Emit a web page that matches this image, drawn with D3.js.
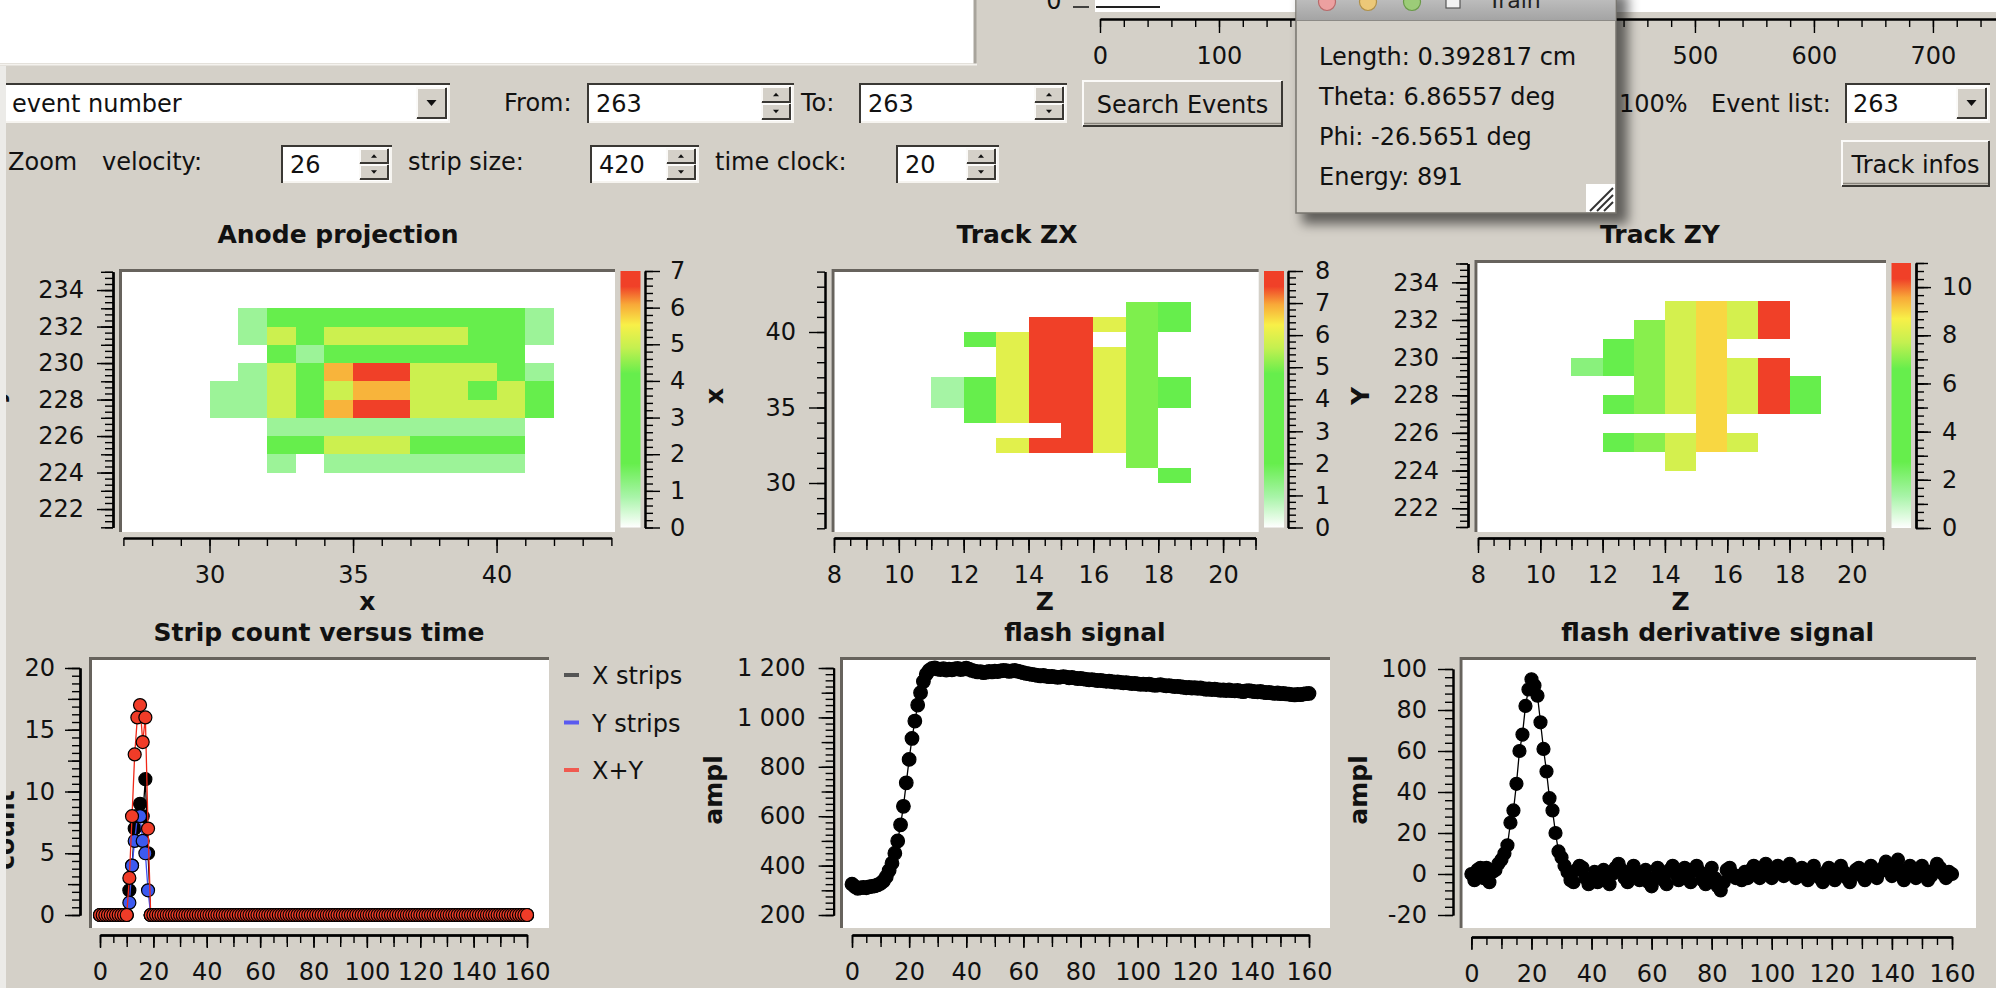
<!DOCTYPE html>
<html>
<head>
<meta charset="utf-8">
<script src="https://cdn.jsdelivr.net/npm/d3@7"></script>
<style>
body { margin: 0; background: #d4d0c8; overflow: hidden; }
svg { display: block; }
</style>
</head>
<body>
<svg id="screen" width="1996" height="988"></svg>
<script>
let fontFamily = "DejaVu Sans, sans-serif"
let bg = "#d4d0c8"

// anode projection: rows are y bins (232..224), columns x bins (30..41)
let anodeCols = [30, 31, 32, 33, 34, 35, 36, 37, 38, 39, 40, 41]
let anodeRows = [232, 231, 230, 229, 228, 227, 226, 225, 224]
let anodeCounts = [
    [0, 1, 4, 4, 4, 4, 4, 4, 4, 4, 4, 1],
    [0, 1, 5, 4, 5, 5, 5, 5, 5, 4, 4, 1],
    [0, 0, 4, 1, 4, 4, 4, 4, 4, 4, 4, 0],
    [0, 1, 5, 4, 6, 7, 7, 5, 5, 5, 4, 1],
    [1, 1, 5, 4, 5, 6, 6, 5, 5, 4, 5, 4],
    [1, 1, 5, 4, 6, 7, 7, 5, 5, 5, 5, 4],
    [0, 0, 1, 1, 1, 1, 1, 1, 1, 1, 1, 0],
    [0, 0, 4, 4, 5, 5, 5, 4, 4, 4, 4, 0],
    [0, 0, 1, 0, 1, 1, 1, 1, 1, 1, 1, 0]
]

// track ZX: rows are x bins (41..30), columns z bins (11..18)
let zxCols = [11, 12, 13, 14, 15, 16, 17, 18]
let zxRows = [41, 40, 39, 38, 37, 36, 35, 34, 33, 32, 31, 30]
let zxCounts = [
    [0, 0, 0, 0, 0, 0, 5, 4],
    [0, 0, 0, 8, 8, 6, 5, 4],
    [0, 4, 6, 8, 8, 0, 5, 0],
    [0, 0, 6, 8, 8, 6, 5, 0],
    [0, 0, 6, 8, 8, 6, 5, 0],
    [1, 4, 6, 8, 8, 6, 5, 4],
    [1, 4, 6, 8, 8, 6, 5, 4],
    [0, 4, 6, 8, 8, 6, 5, 0],
    [0, 0, 0, 0, 8, 6, 5, 0],
    [0, 0, 6, 8, 8, 6, 5, 0],
    [0, 0, 0, 0, 0, 0, 5, 0],
    [0, 0, 0, 0, 0, 0, 0, 4]
]

// track ZY: rows are y bins (232..224), columns z bins (11..18)
let zyCols = [11, 12, 13, 14, 15, 16, 17, 18]
let zyRows = [232, 231, 230, 229, 228, 227, 226, 225, 224]
let zyCounts = [
    [0, 0, 0, 8, 9, 8, 11, 0],
    [0, 0, 7, 8, 9, 8, 11, 0],
    [0, 6, 7, 8, 9, 0, 0, 0],
    [2, 6, 7, 8, 9, 8, 11, 0],
    [0, 0, 7, 8, 9, 8, 11, 6],
    [0, 6, 7, 8, 9, 8, 11, 6],
    [0, 0, 0, 0, 9, 0, 0, 0],
    [0, 6, 7, 8, 9, 8, 0, 0],
    [0, 0, 0, 8, 0, 0, 0, 0]
]

let timeBins = d3.range(0, 161)

let xStrips = [
    0, 0, 0, 0, 0, 0, 0, 0, 0, 0,
    0, 2, 4, 7, 8, 9, 8, 11, 5, 0,
    0, 0, 0, 0, 0, 0, 0, 0, 0, 0, 0, 0, 0, 0, 0, 0, 0, 0, 0, 0,
    0, 0, 0, 0, 0, 0, 0, 0, 0, 0, 0, 0, 0, 0, 0, 0, 0, 0, 0, 0,
    0, 0, 0, 0, 0, 0, 0, 0, 0, 0, 0, 0, 0, 0, 0, 0, 0, 0, 0, 0,
    0, 0, 0, 0, 0, 0, 0, 0, 0, 0, 0, 0, 0, 0, 0, 0, 0, 0, 0, 0,
    0, 0, 0, 0, 0, 0, 0, 0, 0, 0, 0, 0, 0, 0, 0, 0, 0, 0, 0, 0,
    0, 0, 0, 0, 0, 0, 0, 0, 0, 0, 0, 0, 0, 0, 0, 0, 0, 0, 0, 0,
    0, 0, 0, 0, 0, 0, 0, 0, 0, 0, 0, 0, 0, 0, 0, 0, 0, 0, 0, 0,
    0
]
let yStrips = [
    0, 0, 0, 0, 0, 0, 0, 0, 0, 0,
    0, 1, 4, 6, 8, 8, 6, 5, 2, 0,
    0, 0, 0, 0, 0, 0, 0, 0, 0, 0, 0, 0, 0, 0, 0, 0, 0, 0, 0, 0,
    0, 0, 0, 0, 0, 0, 0, 0, 0, 0, 0, 0, 0, 0, 0, 0, 0, 0, 0, 0,
    0, 0, 0, 0, 0, 0, 0, 0, 0, 0, 0, 0, 0, 0, 0, 0, 0, 0, 0, 0,
    0, 0, 0, 0, 0, 0, 0, 0, 0, 0, 0, 0, 0, 0, 0, 0, 0, 0, 0, 0,
    0, 0, 0, 0, 0, 0, 0, 0, 0, 0, 0, 0, 0, 0, 0, 0, 0, 0, 0, 0,
    0, 0, 0, 0, 0, 0, 0, 0, 0, 0, 0, 0, 0, 0, 0, 0, 0, 0, 0, 0,
    0, 0, 0, 0, 0, 0, 0, 0, 0, 0, 0, 0, 0, 0, 0, 0, 0, 0, 0, 0,
    0
]
let xyStrips = [
    0, 0, 0, 0, 0, 0, 0, 0, 0, 0,
    0, 3, 8, 13, 16, 17, 14, 16, 7, 0,
    0, 0, 0, 0, 0, 0, 0, 0, 0, 0, 0, 0, 0, 0, 0, 0, 0, 0, 0, 0,
    0, 0, 0, 0, 0, 0, 0, 0, 0, 0, 0, 0, 0, 0, 0, 0, 0, 0, 0, 0,
    0, 0, 0, 0, 0, 0, 0, 0, 0, 0, 0, 0, 0, 0, 0, 0, 0, 0, 0, 0,
    0, 0, 0, 0, 0, 0, 0, 0, 0, 0, 0, 0, 0, 0, 0, 0, 0, 0, 0, 0,
    0, 0, 0, 0, 0, 0, 0, 0, 0, 0, 0, 0, 0, 0, 0, 0, 0, 0, 0, 0,
    0, 0, 0, 0, 0, 0, 0, 0, 0, 0, 0, 0, 0, 0, 0, 0, 0, 0, 0, 0,
    0, 0, 0, 0, 0, 0, 0, 0, 0, 0, 0, 0, 0, 0, 0, 0, 0, 0, 0, 0,
    0
]

let flashSignal = [
    325, 315, 308, 310, 312, 310, 314, 316, 318, 322,
    328, 338, 355, 380, 410, 450, 500, 565, 640, 735,
    830, 915, 985, 1050, 1100, 1145, 1175, 1190, 1198, 1200,
    1196, 1194, 1197, 1192, 1195, 1193, 1196, 1198, 1194, 1196,
    1199, 1195, 1190, 1187, 1184, 1185, 1181, 1183, 1186, 1184,
    1187, 1185, 1188, 1190, 1189, 1186, 1188, 1190, 1187, 1184,
    1181, 1178, 1176, 1174, 1172, 1170, 1168, 1170, 1167, 1165,
    1166, 1164, 1162, 1163, 1165, 1163, 1160, 1162, 1159, 1157,
    1158, 1156, 1154, 1152, 1153, 1151, 1149, 1150, 1148, 1146,
    1147, 1145, 1143, 1144, 1142, 1140, 1141, 1139, 1137, 1138,
    1136, 1134, 1135, 1133, 1135, 1132, 1130, 1131, 1133, 1130,
    1128, 1129, 1127, 1125, 1126, 1124, 1122, 1120, 1121, 1119,
    1120, 1118, 1119, 1116, 1114, 1115, 1113, 1114, 1112, 1110,
    1111, 1109, 1111, 1108, 1107, 1109, 1106, 1104, 1107, 1108,
    1106, 1104, 1103, 1105, 1102, 1100, 1101, 1099, 1097, 1099,
    1096, 1097, 1095, 1094, 1092, 1091, 1093, 1092, 1094, 1096,
    1097
]

let flashDerivative = [
    0, -3, 2, 3, -2, 3, -4, 1, 2, 5,
    7, 10, 14, 25, 31, 44, 60, 68, 82, 90,
    95, 92, 87, 74, 61, 50, 37, 31, 20, 11,
    8, 4, 1, -3, -4, 2, 4, 3, -2, -5,
    -3, 1, -4, -2, 2, -3, -5, 0, 3, 5,
    2, -2, -4, 1, 4, -1, -3, 0, 2, -4,
    -6, -2, 3, 1, -3, -5, 2, 4, 0, -3,
    -2, 3, -1, -4, 2, 4, 1, -3, -5, 0,
    3, -2, -6, -8, -4, 2, 3, 0, -2, -1,
    -3, 1, -2, 2, 4, 0, -2, 3, 5, 1,
    -2, 2, 4, 1, -1, 3, 5, 2, -2, 0,
    3, -1, -3, 2, 4, 0, -2, -4, 1, 3,
    -1, -3, 2, 4, 1, -2, -4, 0, 2, 3,
    -1, -3, 2, 4, 2, -2, 1, 3, 6, 2,
    -1, 3, 7, 2, -3, 1, 4, 0, -2, 2,
    4, 1, -3, -1, 2, 5, 3, 0, -2, 1,
    0
]

let stripLegend = ["X strips", "Y strips", "X+Y"]
let trackInfo = ["Length: 0.392817 cm", "Theta: 6.86557 deg", "Phi: -26.5651 deg", "Energy: 891"]
let topScaleTicks = [0, 100, 200, 300, 400, 500, 600, 700]
let topScaleHidden = [200, 300, 400] // under the popup

let paletteStops = [0, 0.12, 0.25, 0.6, 0.7, 0.79, 0.87, 0.94, 1]
let paletteColors = ["#ffffff", "#a8f4a8", "#66ee4c", "#66ee4c", "#c4f050", "#f8f048", "#f8a838", "#f04028", "#f04028"]


let svg = d3.select("#screen")
let defs = svg.append("defs")

svg.append("rect").attr("width", 1996).attr("height", 988).attr("fill", bg)


function text(g, x, y, str, opt = {}) {
    return g.append("text")
        .attr("x", x).attr("y", y)
        .attr("font-family", fontFamily)
        .attr("font-size", opt.size || 24)
        .attr("font-weight", opt.bold ? "bold" : "normal")
        .attr("text-anchor", opt.anchor || "start")
        .attr("fill", opt.fill || "#111")
        .text(str)
}

function vlabel(g, x, y, str) {
    g.append("text")
        .attr("transform", `translate(${x},${y}) rotate(-90)`)
        .attr("font-family", fontFamily).attr("font-size", 25).attr("font-weight", "bold")
        .attr("text-anchor", "middle").attr("fill", "#111")
        .text(str)
}

function drawCanvas(g, f) {
    let [x0, y0, x1, y1] = f
    g.append("rect").attr("x", x0).attr("y", y0).attr("width", x1 - x0).attr("height", y1 - y0).attr("fill", "#fff")
    g.append("path")
        .attr("d", `M${x0 + 1.5},${y1} V${y0 + 1.5} H${x1}`)
        .attr("stroke", "#67635d").attr("stroke-width", 3).attr("fill", "none")
}

// qwt-like scale: minor, medium and major ticks through d3 axes
function drawAxis(g, orient, scale, pos, opt) {
    let make = orient === "left" ? d3.axisLeft : orient === "right" ? d3.axisRight : d3.axisBottom
    let tr = orient === "bottom" ? `translate(0,${pos})` : `translate(${pos},0)`
    let [lo, hi] = d3.extent(scale.domain())
    let layers = [[d3.range(lo, hi + 1e-6, opt.minor), 8]]
    if (opt.medium) layers.push([d3.range(lo, hi + 1e-6, opt.medium), 12])

    layers.forEach(l => {
        let a = g.append("g").attr("transform", tr)
            .call(make(scale).tickValues(l[0]).tickSize(l[1]).tickSizeOuter(0).tickFormat(""))
        a.select(".domain").attr("stroke", "#000").attr("stroke-width", 2)
        a.selectAll(".tick line").attr("stroke", "#000").attr("stroke-width", 1.4)
    })

    let a = g.append("g").attr("transform", tr)
        .call(make(scale).tickValues(opt.majors).tickSize(opt.major || 16).tickSizeOuter(0)
            .tickPadding(opt.pad || 12).tickFormat(opt.format || (d => String(d))))
    a.attr("font-family", fontFamily).attr("font-size", 24)
    a.select(".domain").attr("stroke", "#000").attr("stroke-width", 2)
    a.selectAll(".tick line").attr("stroke", "#000").attr("stroke-width", 1.4)
    a.selectAll("text").attr("fill", "#111")
}

function drawHeatmap(p) {
    let g = svg.append("g")
    drawCanvas(g, p.frame)

    let x = d3.scaleLinear(p.xDomain, p.xRange)
    let y = d3.scaleLinear(p.yDomain, p.yRange)
    let color = d3.scaleLinear(paletteStops.map(s => s * p.zMax), paletteColors)

    let cells = []
    p.rows.forEach((r, i) => p.cols.forEach((c, j) => {
        if (p.counts[i][j] > 0) cells.push({c: c, r: r, v: p.counts[i][j]})
    }))

    g.selectAll("rect.cell")
        .data(cells)
        .enter()
        .append("rect")
        .attr("class", "cell")
        .attr("x", d => x(d.c))
        .attr("y", d => y(d.r + 1))
        .attr("width", d => x(d.c + 1) - x(d.c))
        .attr("height", d => y(d.r) - y(d.r + 1))
        .attr("fill", d => color(d.v))
        .attr("shape-rendering", "crispEdges")

    drawAxis(g, "bottom", x, 538, {majors: p.xMajors, minor: p.xMinor, medium: p.xMedium, major: 15, pad: 13})
    drawAxis(g, "left", y, p.yAxisX, {majors: p.yMajors, minor: p.yMinor, medium: p.yMedium, major: 16, pad: 13})

    // colour bar
    let grad = defs.append("linearGradient").attr("id", p.id)
        .attr("x1", 0).attr("y1", 1).attr("x2", 0).attr("y2", 0)
    paletteStops.forEach((s, i) => grad.append("stop").attr("offset", s).attr("stop-color", paletteColors[i]))

    let z = d3.scaleLinear([0, p.zMax], p.barRange)
    g.append("rect")
        .attr("x", p.barX[0]).attr("y", z(p.zMax))
        .attr("width", p.barX[1] - p.barX[0]).attr("height", z(0) - z(p.zMax))
        .attr("fill", `url(#${p.id})`)
    drawAxis(g, "right", z, p.barAxisX, {majors: p.zMajors, minor: p.zMinor, medium: p.zMedium, major: 15, pad: p.barPad})

    text(g, p.titleX, 243, p.title, {bold: true, size: 25, anchor: "middle"})
    text(g, (p.xRange[0] + p.xRange[1]) / 2, 610, p.xLabel, {bold: true, size: 25, anchor: "middle"})
    vlabel(g, p.yLabelX, 396, p.yLabel)
}

function drawSeries(g, x, y, values, fill, stroke, r) {
    let pts = timeBins.map((t, i) => [t, values[i]])
    g.append("path")
        .datum(pts)
        .attr("d", d3.line().x(d => x(d[0])).y(d => y(d[1])))
        .attr("fill", "none").attr("stroke", stroke).attr("stroke-width", 1.3)
    g.selectAll(null)
        .data(pts)
        .enter()
        .append("circle")
        .attr("cx", d => x(d[0]))
        .attr("cy", d => y(d[1]))
        .attr("r", r)
        .attr("fill", fill)
        .attr("stroke", "#000")
        .attr("stroke-width", 1.2)
}

function drawTimePlot(p) {
    let g = svg.append("g")
    drawCanvas(g, p.frame)
    let x = d3.scaleLinear([0, 160], p.xRange)
    let y = d3.scaleLinear(p.yDomain, [915, p.yTop])

    p.series.forEach(s => drawSeries(g, x, y, s.values, s.fill, s.stroke, s.r))

    drawAxis(g, "bottom", x, p.xAxisY, {majors: d3.range(0, 161, 20), minor: 5, medium: 10, major: 13, pad: 15})
    drawAxis(g, "left", y, p.yAxisX, {majors: p.yMajors, minor: p.yMinor, medium: p.yMedium, major: 15, pad: p.pad, format: p.format})

    text(g, (p.frame[0] + p.frame[2]) / 2, 641, p.title, {bold: true, size: 25, anchor: "middle"})
    vlabel(g, p.yLabelX, p.yLabelY || 790, p.yLabel)
    return g
}


// ---------- heat maps ----------
drawHeatmap({
    id: "barAnode", title: "Anode projection", titleX: 338, xLabel: "x", yLabel: "y", yLabelX: 4,
    frame: [119, 269, 615, 532],
    cols: anodeCols, rows: anodeRows, counts: anodeCounts, zMax: 7,
    xDomain: [27, 44], xRange: [123.4, 611.4], xMajors: [30, 35, 40], xMinor: 1,
    yDomain: [221, 235], yRange: [527.3, 271.8], yAxisX: 113, yMajors: d3.range(222, 235, 2), yMinor: 1 / 3, yMedium: 1,
    barX: [620.5, 640.5], barRange: [527.5, 271], barAxisX: 645, barPad: 10, zMajors: d3.range(0, 8), zMinor: 0.2
})

drawHeatmap({
    id: "barZX", title: "Track ZX", titleX: 1017, xLabel: "Z", yLabel: "x", yLabelX: 723,
    frame: [831.5, 269, 1258.7, 532],
    cols: zxCols, rows: zxRows, counts: zxCounts, zMax: 8,
    xDomain: [8, 21], xRange: [834, 1255.5], xMajors: d3.range(8, 21, 2), xMinor: 0.5, xMedium: 1,
    yDomain: [27, 44], yRange: [528.3, 271.6], yAxisX: 825, yMajors: [30, 35, 40], yMinor: 1,
    barX: [1264, 1284], barRange: [527.5, 271], barAxisX: 1288, barPad: 12, zMajors: d3.range(0, 9), zMinor: 0.2
})

drawHeatmap({
    id: "barZY", title: "Track ZY", titleX: 1660, xLabel: "Z", yLabel: "Y", yLabelX: 1369,
    frame: [1474.4, 260, 1886, 532],
    cols: zyCols, rows: zyRows, counts: zyCounts, zMax: 11,
    xDomain: [8, 21], xRange: [1478, 1883], xMajors: d3.range(8, 21, 2), xMinor: 0.5, xMedium: 1,
    yDomain: [221, 235], yRange: [527, 263.5], yAxisX: 1468, yMajors: d3.range(222, 235, 2), yMinor: 1 / 3, yMedium: 1,
    barX: [1891.5, 1911], barRange: [528, 263], barAxisX: 1916, barPad: 11, zMajors: d3.range(0, 11, 2), zMinor: 1 / 3, zMedium: 1
})


// ---------- time plots ----------
let stripPlot = drawTimePlot({
    title: "Strip count versus time", yLabel: "count", yLabelX: 14, yLabelY: 830,
    frame: [89, 657, 549, 928], xRange: [100, 527], xAxisY: 935,
    yDomain: [0, 20], yTop: 668, yAxisX: 80, yMajors: [0, 5, 10, 15, 20], yMinor: 0.625, yMedium: 2.5, pad: 10,
    series: [
        {values: xStrips, fill: "#000000", stroke: "#000000", r: 6.5},
        {values: yStrips, fill: "#3c5af0", stroke: "#3c50f0", r: 6.5},
        {values: xyStrips, fill: "#f03c28", stroke: "#f02818", r: 6.5}
    ]
})

let legendColors = ["#555555", "#5a5af0", "#f05a50"]
stripLegend.forEach((name, i) => {
    stripPlot.append("rect").attr("x", 564).attr("y", 673 + i * 47.5).attr("width", 15).attr("height", 4).attr("fill", legendColors[i])
    text(stripPlot, 592, 684 + i * 47.5, name)
})

drawTimePlot({
    title: "flash signal", yLabel: "ampl", yLabelX: 722,
    frame: [840, 657, 1330, 928], xRange: [852, 1309], xAxisY: 935,
    yDomain: [200, 1200], yTop: 668, yAxisX: 833.6, yMajors: d3.range(200, 1201, 200), yMinor: 25, yMedium: 100, pad: 13,
    format: d => d >= 1000 ? d3.format(",")(d).replace(",", " ") : String(d),
    series: [{values: flashSignal, fill: "#000000", stroke: "#000000", r: 6.8}]
})

drawTimePlot({
    title: "flash derivative signal", yLabel: "ampl", yLabelX: 1367,
    frame: [1459.5, 657, 1976, 928], xRange: [1471.4, 1952], xAxisY: 937,
    yDomain: [-20, 100], yTop: 669, yAxisX: 1453, yMajors: d3.range(-20, 101, 20), yMinor: 4, pad: 11,
    series: [{values: flashDerivative, fill: "#000000", stroke: "#000000", r: 6.5}]
})


// ---------- widgets ----------
let ui = svg.append("g")

function sunken(g, x, y, w, h) {
    g.append("rect").attr("x", x).attr("y", y).attr("width", w).attr("height", h).attr("fill", "#fff")
    g.append("path").attr("d", `M${x + 1},${y + h} V${y + 1} H${x + w}`)
        .attr("stroke", "#3a3834").attr("stroke-width", 2).attr("fill", "none")
    g.append("path").attr("d", `M${x + w - 1},${y + 2} V${y + h - 1} H${x + 2}`)
        .attr("stroke", "#f6f4f0").attr("stroke-width", 2).attr("fill", "none")
}

function raised(g, x, y, w, h) {
    g.append("rect").attr("x", x).attr("y", y).attr("width", w).attr("height", h).attr("fill", bg)
    g.append("path").attr("d", `M${x + 1},${y + h - 1} V${y + 1} H${x + w - 1}`)
        .attr("stroke", "#fbfaf8").attr("stroke-width", 2).attr("fill", "none")
    g.append("path").attr("d", `M${x + w - 1},${y + 1} V${y + h - 1} H${x + 1}`)
        .attr("stroke", "#3a3834").attr("stroke-width", 2).attr("fill", "none")
}

function arrow(g, cx, cy, s, up) {
    let d = up ? `M${cx - s},${cy + s * 0.6} L${cx + s},${cy + s * 0.6} L${cx},${cy - s * 0.6} Z`
        : `M${cx - s},${cy - s * 0.6} L${cx + s},${cy - s * 0.6} L${cx},${cy + s * 0.6} Z`
    g.append("path").attr("d", d).attr("fill", "#111")
}

function spinBox(g, x, y, w, h, value) {
    sunken(g, x, y, w, h)
    text(g, x + 9, y + h / 2 + 9, value)
    let bw = 30, bh = (h - 6) / 2
    raised(g, x + w - bw - 3, y + 3, bw, bh)
    raised(g, x + w - bw - 3, y + 3 + bh, bw, bh)
    arrow(g, x + w - bw / 2 - 3, y + 3 + bh / 2, 3, true)
    arrow(g, x + w - bw / 2 - 3, y + 3 + bh * 1.5, 3, false)
}

function comboBox(g, x, y, w, h, value) {
    sunken(g, x, y, w, h)
    text(g, x + 8, y + h / 2 + 9, value)
    raised(g, x + w - 34, y + 4, 31, h - 8)
    arrow(g, x + w - 18.5, y + h / 2, 5, false)
}

function button(g, x, y, w, h, label) {
    raised(g, x, y, w, h)
    g.append("line").attr("x1", x + 2).attr("x2", x + w - 2).attr("y1", y + h - 3.5).attr("y2", y + h - 3.5)
        .attr("stroke", "#8a867e").attr("stroke-width", 1.5)
    text(g, x + w / 2, y + h / 2 + 9, label, {anchor: "middle"})
}

// top-left white panel
ui.append("rect").attr("x", 0).attr("y", 0).attr("width", 974).attr("height", 63).attr("fill", "#fff")
ui.append("line").attr("x1", 975).attr("x2", 975).attr("y1", 0).attr("y2", 64).attr("stroke", "#a8a49c").attr("stroke-width", 3)
ui.append("line").attr("x1", 0).attr("x2", 977).attr("y1", 64.5).attr("y2", 64.5).attr("stroke", "#f4f2ee").attr("stroke-width", 2)

// partially visible histogram at the top right
ui.append("rect").attr("x", 1095).attr("y", 0).attr("width", 901).attr("height", 12).attr("fill", "#fff")
ui.append("line").attr("x1", 1096).attr("x2", 1160).attr("y1", 7).attr("y2", 7).attr("stroke", "#222").attr("stroke-width", 2)
ui.append("line").attr("x1", 1073).attr("x2", 1089).attr("y1", 7).attr("y2", 7).attr("stroke", "#111").attr("stroke-width", 1.5)
text(ui, 1054, 9, "0", {anchor: "middle"})
let topScale = d3.scaleLinear([0, 753], [1100, 1996])
drawAxis(ui, "bottom", topScale, 19, {
    majors: topScaleTicks, minor: 20, major: 14, pad: 14,
    format: d => topScaleHidden.includes(d) ? "" : String(d)
})

// first row
comboBox(ui, 4, 83, 446, 40, "event number")
text(ui, 504, 111, "From:")
spinBox(ui, 587, 83, 207, 40, "263")
text(ui, 801, 111, "To:")
spinBox(ui, 859, 83, 208, 40, "263")
button(ui, 1082, 80, 201, 47, "Search Events")
text(ui, 1619, 112, "100%")
text(ui, 1711, 112, "Event list:")
comboBox(ui, 1845, 83, 145, 40, "263")

// second row
text(ui, 8, 170, "Zoom")
text(ui, 102, 170, "velocity:")
spinBox(ui, 281, 145, 111, 38, "26")
text(ui, 408, 170, "strip size:")
spinBox(ui, 590, 145, 109, 38, "420")
text(ui, 715, 170, "time clock:")
spinBox(ui, 896, 145, 103, 38, "20")
button(ui, 1841, 140, 149, 47, "Track infos")


// ---------- track info popup ----------
let blur = defs.append("filter").attr("id", "shadow")
    .attr("x", "-20%").attr("y", "-20%").attr("width", "140%").attr("height", "140%")
blur.append("feGaussianBlur").attr("stdDeviation", 6)

let pop = svg.append("g")
pop.append("rect").attr("x", 1302).attr("y", -6).attr("width", 326).attr("height", 230)
    .attr("fill", "rgba(0,0,0,0.55)").attr("filter", "url(#shadow)")

let tbar = defs.append("linearGradient").attr("id", "titlebar").attr("x1", 0).attr("y1", 0).attr("x2", 0).attr("y2", 1)
tbar.append("stop").attr("offset", 0).attr("stop-color", "#bcbcbc")
tbar.append("stop").attr("offset", 1).attr("stop-color", "#a4a4a4")

pop.append("rect").attr("x", 1296).attr("y", -2).attr("width", 320).attr("height", 215)
    .attr("fill", bg).attr("stroke", "#77746e").attr("stroke-width", 1.5)
pop.append("rect").attr("x", 1296.5).attr("y", 0).attr("width", 319).attr("height", 20).attr("fill", "url(#titlebar)")
pop.append("line").attr("x1", 1296).attr("x2", 1616).attr("y1", 20.5).attr("y2", 20.5).attr("stroke", "#8c8a86")

let lights = [[1327, "#eca0a0", "#b86a6a"], [1368, "#ecc878", "#b09048"], [1412, "#9ccc78", "#6a9a48"]]
lights.forEach(l => pop.append("circle").attr("cx", l[0]).attr("cy", 2).attr("r", 8.5)
    .attr("fill", l[1]).attr("stroke", l[2]).attr("stroke-width", 1.2))
pop.append("rect").attr("x", 1446).attr("y", -4).attr("width", 14).attr("height", 12)
    .attr("fill", "#f2f2f2").attr("stroke", "#555").attr("stroke-width", 1.2)
text(pop, 1488, 8, "Train", {size: 22, fill: "#222"})

trackInfo.forEach((line, i) => text(pop, 1319, 65 + i * 40, line))

// size grip
pop.append("rect").attr("x", 1586).attr("y", 184).attr("width", 29).attr("height", 28).attr("fill", "#fff")
;[0, 7, 14].forEach(o => pop.append("line")
    .attr("x1", 1590 + o).attr("y1", 211).attr("x2", 1613).attr("y2", 188 + o)
    .attr("stroke", "#333").attr("stroke-width", 2))

// splitter strip on the left edge
svg.append("rect").attr("x", 0).attr("y", 66).attr("width", 6).attr("height", 922).attr("fill", "#ecebe8")
</script>
</body>
</html>
